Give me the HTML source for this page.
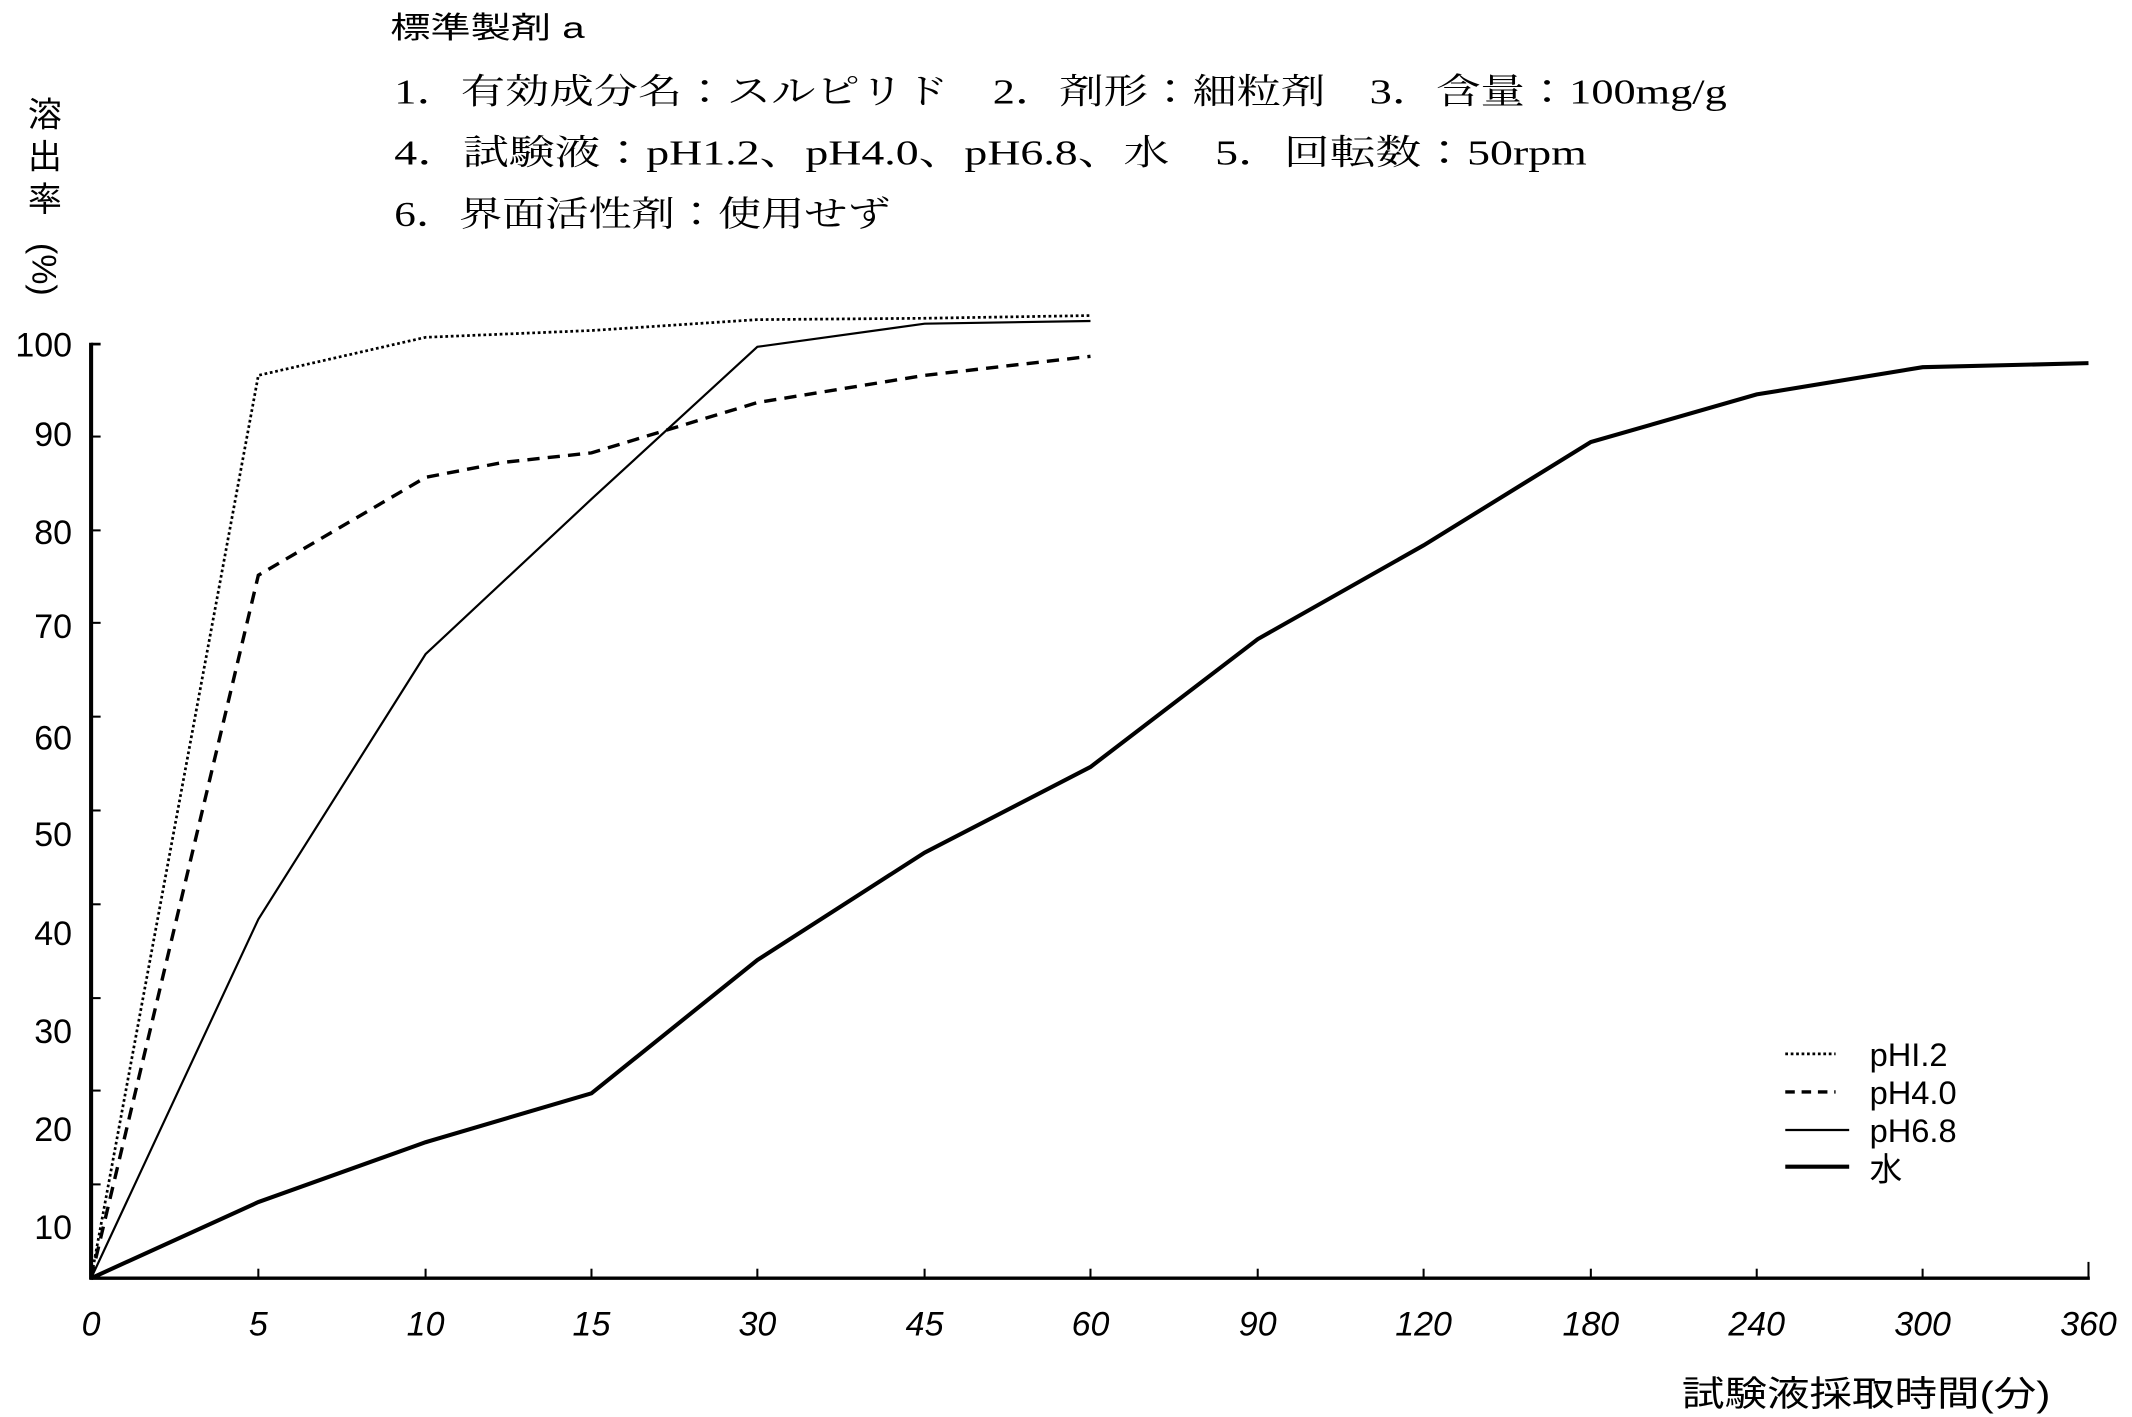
<!DOCTYPE html>
<html><head><meta charset="utf-8"><style>
html,body{margin:0;padding:0;background:#fff;}
svg{display:block}
.j{font-family:"Liberation Serif","Noto Serif CJK JP","Noto Sans CJK JP",serif;fill:#000}
.s{font-family:"Liberation Sans","Noto Sans CJK JP",sans-serif;fill:#000}
</style></head><body>
<svg width="2132" height="1417" viewBox="0 0 1568 1042" xmlns="http://www.w3.org/2000/svg">
<rect width="1568" height="1042" fill="#fff"/>
<text class="s" x="287" y="28" font-size="22" textLength="143" lengthAdjust="spacingAndGlyphs">標準製剤 a</text>
<text class="j" x="290" y="76" font-size="26" textLength="980" lengthAdjust="spacingAndGlyphs">1．有効成分名：スルピリド　2．剤形：細粒剤　3．含量：100mg/g</text>
<text class="j" x="290" y="121" font-size="26" textLength="877" lengthAdjust="spacingAndGlyphs">4．試験液：pH1.2、pH4.0、pH6.8、水　5．回転数：50rpm</text>
<text class="j" x="290" y="166" font-size="26" textLength="365" lengthAdjust="spacingAndGlyphs">6．界面活性剤：使用せず</text>
<g class="s" font-size="25" text-anchor="middle">
<text x="33" y="93">溶</text><text x="33" y="124">出</text><text x="33" y="155">率</text>
<text x="33" y="207" transform="rotate(90 33 198)">(%)</text>
</g>
<g stroke="#000" fill="none">
<line x1="67" y1="252" x2="67" y2="941" stroke-width="3"/>
<line x1="66" y1="940" x2="1537" y2="940" stroke-width="2.5"/>
<line x1="67" y1="253" x2="74" y2="253" stroke-width="2"/>
<g stroke-width="1.5">
<line x1="67" y1="871" x2="74" y2="871"/><line x1="67" y1="802" x2="74" y2="802"/><line x1="67" y1="734" x2="74" y2="734"/><line x1="67" y1="665" x2="74" y2="665"/><line x1="67" y1="596" x2="74" y2="596"/><line x1="67" y1="527" x2="74" y2="527"/><line x1="67" y1="458" x2="74" y2="458"/><line x1="67" y1="390" x2="74" y2="390"/><line x1="67" y1="321" x2="74" y2="321"/>
<line x1="190" y1="940" x2="190" y2="933"/><line x1="313" y1="940" x2="313" y2="933"/><line x1="435" y1="940" x2="435" y2="933"/><line x1="557" y1="940" x2="557" y2="933"/><line x1="680" y1="940" x2="680" y2="933"/><line x1="802" y1="940" x2="802" y2="933"/><line x1="925" y1="940" x2="925" y2="933"/><line x1="1047" y1="940" x2="1047" y2="933"/><line x1="1170" y1="940" x2="1170" y2="933"/><line x1="1292" y1="940" x2="1292" y2="933"/><line x1="1414" y1="940" x2="1414" y2="933"/><line x1="1536" y1="940" x2="1536" y2="928"/>
</g>
<polyline stroke-width="2" stroke-dasharray="2,2" points="67,940 190,276 313,248 435,243 557,235 680,234 802,232"/>
<polyline stroke-width="2.5" stroke-dasharray="9,6" points="67,940 190,423 313,351 370,340 435,333 557,296 680,276 802,262"/>
<polyline stroke-width="1.6" points="67,940 190,676 313,481 435,367 557,255 680,238 802,236"/>
<polyline stroke-width="3" points="67,940 190,884 313,840 435,804 557,706 680,627 802,564 925,470 1047,401 1170,325 1292,290 1414,270 1536,267"/>
<line x1="1313" y1="775" x2="1350" y2="775" stroke-width="2" stroke-dasharray="2,2"/>
<line x1="1313" y1="803" x2="1350" y2="803" stroke-width="2.5" stroke-dasharray="7,5"/>
<line x1="1313" y1="831" x2="1360" y2="831" stroke-width="1.6"/>
<line x1="1313" y1="858" x2="1360" y2="858" stroke-width="3"/>
</g>
<g class="s" font-size="25" text-anchor="end">
<text x="53" y="262">100</text><text x="53" y="328">90</text><text x="53" y="400">80</text><text x="53" y="469">70</text><text x="53" y="551">60</text><text x="53" y="622">50</text><text x="53" y="695">40</text><text x="53" y="767">30</text><text x="53" y="839">20</text><text x="53" y="911">10</text>
</g>
<g class="s" font-size="25" font-style="italic" text-anchor="middle">
<text x="67" y="982">0</text><text x="190" y="982">5</text><text x="313" y="982">10</text><text x="435" y="982">15</text><text x="557" y="982">30</text><text x="680" y="982">45</text><text x="802" y="982">60</text><text x="925" y="982">90</text><text x="1047" y="982">120</text><text x="1170" y="982">180</text><text x="1292" y="982">240</text><text x="1414" y="982">300</text><text x="1536" y="982">360</text>
</g>
<g class="s" font-size="24">
<text x="1375" y="784">pHI.2</text><text x="1375" y="812">pH4.0</text><text x="1375" y="840">pH6.8</text><text x="1375" y="868">水</text>
</g>
<text class="s" x="1237" y="1034" font-size="26" textLength="271" lengthAdjust="spacingAndGlyphs">試験液採取時間(分)</text>
</svg>
</body></html>
